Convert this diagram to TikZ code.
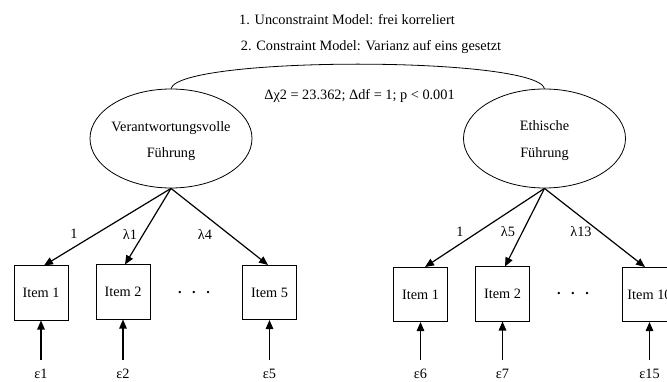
\documentclass[tikz,border=0pt]{standalone}
\usepackage{fontspec}
\setmainfont{Liberation Serif}
\usetikzlibrary{shapes.geometric,arrows.meta}
\begin{document}
\begin{tikzpicture}[x=1pt,y=-1pt,
  every node/.style={font=\fontsize{14.3}{17}\selectfont},
  latent/.style={draw,ellipse,minimum width=162pt,minimum height=99pt,inner sep=0pt,line width=0.8pt},
  ltext/.style={inner sep=0pt,align=center,font=\fontsize{14.3}{26.5}\selectfont},
  item/.style={draw,minimum width=54pt,minimum height=54pt,inner sep=0pt,line width=1pt},
  load/.style={-{Triangle[length=9pt,width=7.5pt]},line width=1.2pt},
  lbl/.style={inner sep=0pt}]
\useasboundingbox (0,0) rectangle (667,382);
\clip (0,0) rectangle (667,382);
\fill[white] (0,0) rectangle (667,382);
% header texts
\node[lbl] (t1) at (347,20) {1. Unconstraint Model: frei korreliert};
\node[lbl] (t2) at (371,47) {2. Constraint Model: Varianz auf eins gesetzt};
\node[lbl] (t3) at (359.5,96) {Δχ2 = 23.362; Δdf = 1; p < 0.001};
% latent variables
\node[latent] (L) at (171,138.5) {};
\node[ltext] (Lt) at (171,141) {Verantwortungsvolle\\Führung};
\node[latent] (R) at (544.5,138.5) {};
\node[ltext] (Rt) at (544.5,140.5) {Ethische\\Führung};
\draw[line width=0.8pt] (L.north) .. controls (180,56) and (536,56) .. (R.north);
% items left
\node[item] (a1) at (41,293) {Item 1};
\node[item] (a2) at (123,292) {Item 2};
\node[item] (a5) at (269.5,292.5) {Item 5};
\node[lbl] (dl) at (194,293) {\textbf{.}\hspace{10.5pt}\textbf{.}\hspace{10.5pt}\textbf{.}};
% items right
\node[item] (b1) at (420.5,294.5) {Item 1};
\node[item] (b2) at (502.5,294) {Item 2};
\node[item] (b10) at (649.5,294.5) {Item 10};
\node[lbl] (dr) at (573,294) {\textbf{.}\hspace{10.5pt}\textbf{.}\hspace{10.5pt}\textbf{.}};
% loadings
\draw[load] (L.south) -- ([xshift=3pt]a1.north);
\draw[load] (L.south) -- ([xshift=2pt]a2.north);
\draw[load] (L.south) -- ([xshift=-1.5pt]a5.north);
\draw[load] (R.south) -- ([xshift=4.5pt]b1.north);
\draw[load] (R.south) -- ([xshift=2.5pt]b2.north);
\draw[load] (R.south) -- ([xshift=-4.5pt]b10.north);
\node[lbl] (l1) at (74,234) {1};
\node[lbl] (l2) at (130,234) {λ1};
\node[lbl] (l3) at (205,234) {λ4};
\node[lbl] (r1) at (460,232) {1};
\node[lbl] (r2) at (508,232) {λ5};
\node[lbl] (r3) at (581,232) {λ13};
% errors
\foreach \b/\x/\t in {a1/41/1,a2/123/2,a5/269.5/5,b1/420.5/6,b2/502.5/7,b10/649.5/15}{
  \coordinate (e\t) at (\x,360);
  \node[lbl] (n\t) at (\x,374) {ε\t};
  \draw[load] (e\t) -- (\b.south);
}
\end{tikzpicture}
\end{document}
